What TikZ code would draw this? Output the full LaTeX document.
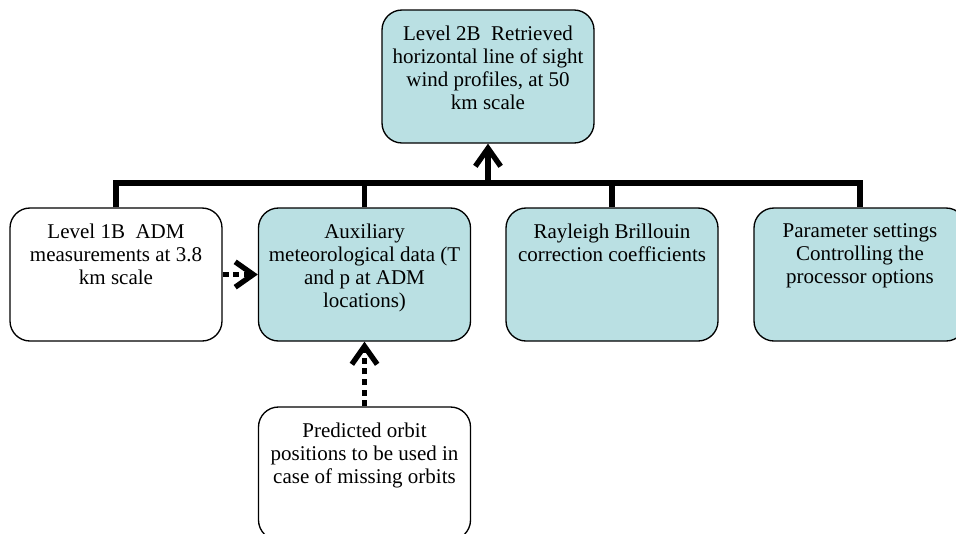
\documentclass[tikz,border=0pt]{standalone}
\usepackage{fontspec}
\setmainfont{Liberation Serif}
\usetikzlibrary{arrows.meta}
\definecolor{boxteal}{RGB}{186,224,227}
\tikzset{
	databox/.style={draw, line width=1pt, rounded corners=15pt, minimum width=159pt, minimum height=99.75pt, inner xsep=2pt, inner ysep=11.8pt, font=\fontsize{15.75}{17.25}\selectfont},
	inputbox/.style={databox, fill=boxteal},
	plainbox/.style={databox, fill=white},
	treeline/.style={line width=4pt},
	chevron/.style={-{Straight Barb[length=13.5pt,width=19pt]}},
	dottedarrow/.style={line width=4pt, dash pattern=on 4.5pt off 3.5pt, chevron}
}
\begin{document}
\begin{tikzpicture}[x=0.75pt,y=-0.75pt]
			\newcommand{\myboxtext}[1]{
				\parbox[t][76pt][t]{155pt}{\centering #1}
			}%Page frame
			\useasboundingbox (0,0) rectangle (956,533);
			%Product at the top
			\coordinate (centerL2B) at (488,76.5);
			\node [inputbox] (l2b) at (centerL2B) {\myboxtext{Level 2B\ \ Retrieved\\horizontal line of sight\\wind profiles, at 50\\km scale}};
			%Row of inputs
			\coordinate (centerL1B) at (116,274.5);
			\coordinate (centerAux) at (364.5,274.5);
			\coordinate (centerRB) at (612,274.5);
			\coordinate (centerParam) at (860,274.5);
			\node [plainbox] (l1b) at (centerL1B) {\myboxtext{Level 1B\ \ ADM\\measurements at 3.8\\km scale}};
			\node [inputbox] (aux) at (centerAux) {\myboxtext{Auxiliary\\meteorological data (T\\and p at ADM\\locations)}};
			\node [inputbox] (rb) at (centerRB) {\myboxtext{Rayleigh Brillouin\\correction coefficients}};
			\node [inputbox] (param) at (centerParam) {\myboxtext{Parameter settings\\Controlling the\\processor options}};
			%Orbit box below the auxiliary data
			\coordinate (centerOrbit) at (364.5,473.5);
			\node [plainbox] (orbit) at (centerOrbit) {\myboxtext{Predicted orbit\\positions to be used in\\case of missing orbits}};
			%Tree joining the inputs
			\coordinate (bus) at (488,183);
			\draw [treeline] (l1b.north) |- (bus) -| (param.north);
			\draw [treeline] (aux.north) -- (aux.north |- bus);
			\draw [treeline] (rb.north) -- (rb.north |- bus);
			\draw [treeline,chevron] (bus) -- (l2b.south);
			%Dashed feeds into the auxiliary data
			\draw [dottedarrow] (l1b.east) -- (aux.west);
			\draw [dottedarrow] (orbit.north) -- (aux.south);
\end{tikzpicture}
\end{document}
